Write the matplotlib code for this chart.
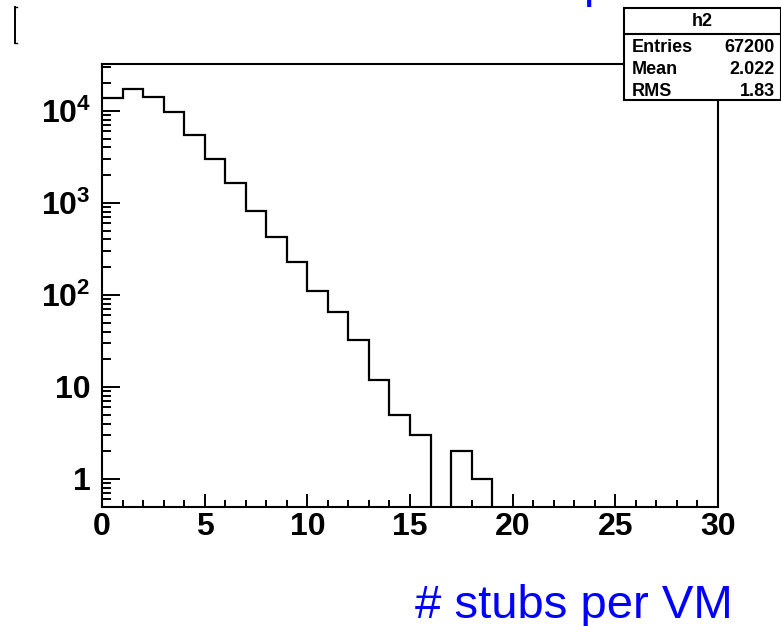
import numpy as np
import matplotlib
matplotlib.use("Agg")
import matplotlib.pyplot as plt
from matplotlib.lines import Line2D
from matplotlib.patches import Rectangle

# contenu des bins (largeur 1)
bin_edges = np.arange(0, 31, 1)
counts = [13700, 17200, 14100, 9600, 5480, 3000, 1640, 825, 430, 228,
          109, 65, 32, 12, 5, 3, 0, 2, 1, 0,
          0, 0, 0, 0, 0, 0, 0, 0, 0, 0]

x_ticks = [0, 5, 10, 15, 20, 25, 30]
y_ticks = [1, 10, 100, 1000, 10000]
y_tick_labels = ['1', '10', r'$10^{2}$', r'$10^{3}$', r'$10^{4}$']

stats_names = ['Entries', 'Mean', 'RMS']
stats_values = ['67200', '2.022', '1.83']
hist_name = 'h2'
x_title = '# stubs per VM'

plt.rcParams['font.family'] = ['Liberation Sans', 'DejaVu Sans']
plt.rcParams['mathtext.fontset'] = 'custom'
plt.rcParams['mathtext.rm'] = 'Liberation Sans:bold'
plt.rcParams['mathtext.it'] = 'Liberation Sans:bold'
plt.rcParams['mathtext.bf'] = 'Liberation Sans:bold'

W, H = 781, 626
fig = plt.figure(figsize=(W / 100, H / 100), dpi=100)
ax = fig.add_axes([102 / W, 1 - 506.7 / H, (718 - 102) / W, (506.7 - 64.3) / H])

# les bins vides passent sous l'axe (comme ROOT)
vals = np.array(counts, dtype=float)
vals = np.where(vals > 0, vals, 1e-3)
ax.stairs(vals, bin_edges, color='black', linewidth=1.6, baseline=None)

ax.set_yscale('log')
ax.set_xlim(0, 30)
ax.set_ylim(0.5, 3.2e4)

ax.set_xticks(x_ticks)
ax.set_xticklabels([str(t) for t in x_ticks])
ax.set_xticks(np.arange(0, 31, 1), minor=True)
ax.set_yticks(y_ticks)
ax.set_yticklabels(y_tick_labels)
ax.yaxis.set_minor_locator(matplotlib.ticker.LogLocator(base=10, subs=np.arange(2, 10)))
ax.yaxis.set_minor_formatter(matplotlib.ticker.NullFormatter())

for lab in ax.get_xticklabels() + ax.get_yticklabels():
    lab.set_fontweight('bold')
    lab.set_fontsize(23)

ax.tick_params(axis='both', which='both', direction='in', top=False, right=False, width=1.4)
ax.tick_params(axis='x', which='major', length=9.5, pad=4)
ax.tick_params(axis='x', which='minor', length=5)
ax.tick_params(axis='y', which='major', length=13, pad=8)
ax.tick_params(axis='y', which='minor', length=6.5)
for s in ax.spines.values():
    s.set_linewidth(1.5)

# titre de l'axe x
fig.text(733 / W, 1 - 618 / H, x_title, color='blue', fontsize=34,
         ha='right', va='baseline')

# morceau du titre coupé en haut
fig.text(583 / W, 1 + 3 / H, 'p', color='blue', fontsize=34,
         ha='left', va='baseline')

# crochet à gauche (reste du titre y coupé)
fig.add_artist(Line2D([15.5 / W, 15.5 / W], [1 - 7 / H, 1 - 43 / H], color='black', lw=1.4))
fig.add_artist(Line2D([15.5 / W, 17 / W], [1 - 7 / H, 1 - 7 / H], color='black', lw=1.0))
fig.add_artist(Line2D([15.5 / W, 17 / W], [1 - 43 / H, 1 - 43 / H], color='black', lw=1.0))

# boîte de stats
bx0, bx1, by0, by1 = 624 / W, 780.5 / W, 1 - 100 / H, 1 - 8 / H
fig.add_artist(Rectangle((bx0, by0), bx1 - bx0, by1 - by0, transform=fig.transFigure,
                         facecolor='white', edgecolor='black', linewidth=1.5, zorder=5))
fig.add_artist(Line2D([bx0, bx1], [1 - 34 / H, 1 - 34 / H], color='black', lw=1.5, zorder=6))
fig.text((bx0 + bx1) / 2, 1 - 21 / H, hist_name, fontsize=13, fontweight='bold',
         ha='center', va='center', zorder=7)
row_y = [47, 70, 91]
for name, val, yy in zip(stats_names, stats_values, row_y):
    fig.text(632 / W, 1 - yy / H, name, fontsize=13, fontweight='bold',
             ha='left', va='center', zorder=7)
    fig.text(775 / W, 1 - yy / H, val, fontsize=13, fontweight='bold',
             ha='right', va='center', zorder=7)

fig.savefig('out.png', dpi=100)
